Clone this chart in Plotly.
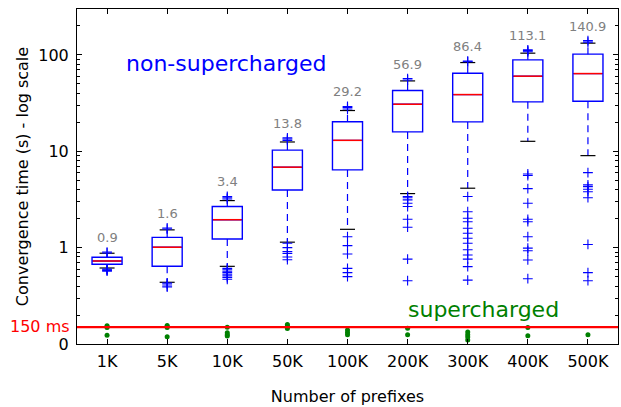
import numpy as np
import plotly.graph_objects as go

categories = ["1K", "5K", "10K", "50K", "100K", "200K", "300K", "400K", "500K"]

q1 = [0.672, 0.641, 1.23, 3.97, 6.41, 15.9, 20.2, 32.6, 33.1]
median = [0.727, 1.01, 1.95, 6.84, 13.0, 30.8, 38.8, 60.2, 64.1]
q3 = [0.795, 1.28, 2.67, 10.3, 20.3, 42.7, 64.7, 89.0, 102.0]
whisk_lo = [0.615, 0.437, 0.64, 1.14, 1.55, 3.64, 4.14, 12.7, 9.02]
whisk_hi = [0.875, 1.53, 3.08, 12.5, 26.5, 53.8, 83.4, 104.4, 132.6]
max_vals = [0.9, 1.6, 3.4, 13.8, 29.2, 56.9, 86.4, 113.1, 140.9]
max_labels = ["0.9", "1.6", "3.4", "13.8", "29.2", "56.9", "86.4", "113.1", "140.9"]

upper_outliers = [
    [0.88, 0.9],
    [1.56, 1.6],
    [3.2, 3.3, 3.4],
    [13.0, 13.4, 13.8],
    [27.5, 28.5, 29.2],
    [55.0, 56.9],
    [85.0, 86.4],
    [108.0, 111.0, 113.1],
    [136.0, 140.9],
]
lower_outliers = [
    [0.60, 0.59, 0.58, 0.57],
    [0.43, 0.42, 0.40, 0.39],
    [0.61, 0.59, 0.57, 0.55, 0.53, 0.51, 0.49, 0.47],
    [1.11, 1.0, 0.91, 0.87, 0.80, 0.75],
    [1.30, 1.05, 0.86, 0.61, 0.55, 0.50],
    [3.4, 3.3, 3.13, 2.89, 2.67, 1.97, 1.63, 0.76, 0.454],
    [3.39, 2.36, 2.02, 1.86, 1.59, 1.41, 1.25, 1.11, 0.95, 0.84, 0.76, 0.635, 0.46],
    [5.82, 5.6, 4.10, 2.89, 1.97, 1.86, 1.30, 0.99, 0.93, 0.745, 0.476],
    [6.01, 4.48, 4.30, 4.04, 3.81, 3.30, 1.08, 0.55, 0.454],
]
supercharged = [
    [0.155, 0.151, 0.148, 0.123],
    [0.156, 0.152, 0.148, 0.119],
    [0.149, 0.131, 0.125, 0.121],
    [0.159, 0.154, 0.149, 0.145],
    [0.14, 0.132, 0.125],
    [0.146, 0.125],
    [0.133, 0.125, 0.118, 0.11],
    [0.148, 0.122],
    [0.125],
]

THRESH = 0.15  # 150 ms
y_tickvals = [0.1, 1, 10, 100]
y_ticktext = ["0", "1", "10", "100"]

pos = list(range(1, len(categories) + 1))
BOX_W = 0.5
CAP_HW = 0.125

BLUE = "#0000ff"
FONT = "DejaVu Sans"

fig = go.Figure()

# boxes (quartiles only; whiskers drawn separately as dashed lines)
fig.add_trace(go.Box(
    x=pos, q1=q1, median=median, q3=q3, lowerfence=q1, upperfence=q3,
    width=BOX_W, fillcolor="white", line=dict(color=BLUE, width=1.4),
    boxpoints=False, hoverinfo="skip", showlegend=False,
))

# red medians
mx, my = [], []
for p, m in zip(pos, median):
    mx += [p - BOX_W / 2 + 0.012, p + BOX_W / 2 - 0.012, None]
    my += [m, m, None]
fig.add_trace(go.Scatter(x=mx, y=my, mode="lines", line=dict(color="#ff0000", width=1.5),
                         showlegend=False, hoverinfo="skip"))

# whiskers
wx, wy = [], []
for p, a, b, c, d in zip(pos, q1, whisk_lo, q3, whisk_hi):
    wx += [p, p, None, p, p, None]
    wy += [a, b, None, c, d, None]
fig.add_trace(go.Scatter(x=wx, y=wy, mode="lines",
                         line=dict(color=BLUE, width=1.2, dash="7px,5px"),
                         showlegend=False, hoverinfo="skip"))

# caps
cx, cy = [], []
for p, lo, hi in zip(pos, whisk_lo, whisk_hi):
    cx += [p - CAP_HW, p + CAP_HW, None, p - CAP_HW, p + CAP_HW, None]
    cy += [lo, lo, None, hi, hi, None]
fig.add_trace(go.Scatter(x=cx, y=cy, mode="lines", line=dict(color="black", width=1.2),
                         showlegend=False, hoverinfo="skip"))

# outliers
ox, oy = [], []
for p, ups, lows in zip(pos, upper_outliers, lower_outliers):
    for v in ups + lows:
        ox.append(p)
        oy.append(v)
fig.add_trace(go.Scatter(x=ox, y=oy, mode="markers",
                         marker=dict(symbol="cross-thin", size=7, line=dict(color=BLUE, width=1.1)),
                         showlegend=False, hoverinfo="skip"))

# supercharged points
gx, gy = [], []
for p, vals in zip(pos, supercharged):
    for v in vals:
        gx.append(p)
        gy.append(v)
fig.add_trace(go.Scatter(x=gx, y=gy, mode="markers",
                         marker=dict(symbol="circle", size=5, color="#008000"),
                         showlegend=False, hoverinfo="skip", cliponaxis=False))

# threshold line
fig.add_shape(type="line", xref="paper", x0=0, x1=1, yref="y", y0=THRESH, y1=THRESH,
              line=dict(color="#ff0000", width=2.2))

# max labels
for p, v, t in zip(pos, max_vals, max_labels):
    fig.add_annotation(x=p, y=np.log10(v), xref="x", yref="y", text=t, showarrow=False,
                       yanchor="bottom", yshift=5, font=dict(family=FONT, size=13, color="#808080"))

fig.add_annotation(x=(72 - 77) / 541, y=np.log10(THRESH), xref="paper", yref="y", text="150 ms",
                   showarrow=False, xanchor="right", yanchor="middle", yshift=1,
                   font=dict(family=FONT, size=16, color="#ff0000"))
fig.add_annotation(x=0.275, y=0.836, xref="paper", yref="paper", text="non-supercharged",
                   showarrow=False, xanchor="center", yanchor="middle",
                   font=dict(family=FONT, size=22, color=BLUE))
fig.add_annotation(x=0.752, y=0.104, xref="paper", yref="paper", text="supercharged",
                   showarrow=False, xanchor="center", yanchor="middle",
                   font=dict(family=FONT, size=22, color="#008000"))

fig.update_layout(
    width=621, height=407,
    margin=dict(l=77, r=3, t=9, b=63),
    paper_bgcolor="white", plot_bgcolor="white",
    font=dict(family=FONT, size=16, color="black"),
    showlegend=False,
)
fig.update_xaxes(
    range=[0.5, len(categories) + 0.5], tickvals=pos, ticktext=categories,
    showline=True, linecolor="black", linewidth=1, mirror="allticks",
    ticks="inside", ticklen=5, tickcolor="black", showgrid=False, zeroline=False,
    ticklabelstandoff=3, automargin=False,
    title=dict(text="Number of prefixes", standoff=20, font=dict(size=16)),
    tickfont=dict(size=16),
)
fig.update_yaxes(
    type="log", range=[-1, np.log10(300)],
    tickvals=y_tickvals, ticktext=y_ticktext,
    showline=True, linecolor="black", linewidth=1, mirror="allticks",
    ticks="inside", ticklen=5, tickcolor="black", showgrid=False, zeroline=False,
    minor=dict(ticks="inside", ticklen=3, tickcolor="black", dtick="D1", showgrid=False),
    ticklabelstandoff=4, automargin=False,
    title=dict(text="Convergence time (s) - log scale", standoff=5, font=dict(size=16)),
    tickfont=dict(size=16),
)

fig.write_html("out.html", config={"displayModeBar": False},
               post_script="document.body.style.margin='0';")
